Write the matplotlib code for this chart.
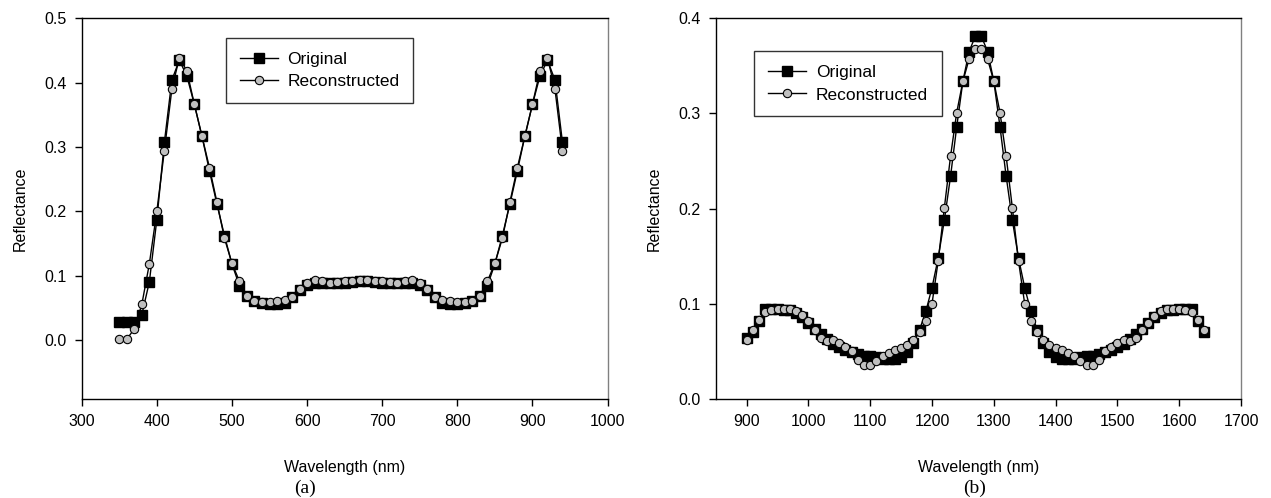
import numpy as np
import matplotlib
matplotlib.use("Agg")
import matplotlib.pyplot as plt

plt.rcParams['font.family'] = ['Liberation Sans', 'DejaVu Sans']

# --- dados do painel (a) ---
wl_a = np.arange(350, 950, 10)
orig_a = [0.028, 0.028, 0.028, 0.039, 0.090, 0.187, 0.307, 0.404, 0.435, 0.410,
          0.366, 0.317, 0.263, 0.211, 0.162, 0.118, 0.084, 0.068, 0.061, 0.057,
          0.056, 0.056, 0.058, 0.066, 0.078, 0.086, 0.089, 0.089, 0.088, 0.088,
          0.089, 0.090, 0.091, 0.091, 0.090, 0.089, 0.088, 0.088, 0.089, 0.089,
          0.086, 0.078, 0.066, 0.058, 0.056, 0.056, 0.057, 0.061, 0.068, 0.084,
          0.118, 0.162, 0.211, 0.263, 0.317, 0.366, 0.410, 0.435, 0.404, 0.307]
recon_a = [0.001, 0.001, 0.017, 0.055, 0.118, 0.200, 0.294, 0.390, 0.439, 0.418,
           0.366, 0.317, 0.268, 0.214, 0.158, 0.119, 0.091, 0.068, 0.061, 0.059,
           0.059, 0.061, 0.062, 0.067, 0.079, 0.089, 0.093, 0.091, 0.088, 0.090,
           0.091, 0.092, 0.093, 0.093, 0.092, 0.091, 0.090, 0.088, 0.091, 0.093,
           0.089, 0.079, 0.067, 0.062, 0.061, 0.059, 0.059, 0.061, 0.068, 0.091,
           0.119, 0.158, 0.214, 0.268, 0.317, 0.366, 0.418, 0.439, 0.390, 0.294]

# --- dados do painel (b) ---
wl_b = np.arange(900, 1650, 10)
orig_b = [0.064, 0.070, 0.082, 0.095, 0.095, 0.095, 0.094, 0.093, 0.090, 0.086,
          0.080, 0.074, 0.068, 0.063, 0.058, 0.055, 0.052, 0.049, 0.047, 0.045,
          0.045, 0.044, 0.042, 0.042, 0.042, 0.044, 0.049, 0.059, 0.073, 0.092,
          0.117, 0.148, 0.188, 0.234, 0.286, 0.334, 0.365, 0.381, 0.381, 0.365,
          0.334, 0.286, 0.234, 0.188, 0.148, 0.117, 0.092, 0.073, 0.059, 0.049,
          0.044, 0.042, 0.042, 0.042, 0.044, 0.045, 0.045, 0.047, 0.049, 0.052,
          0.055, 0.058, 0.063, 0.068, 0.074, 0.080, 0.086, 0.090, 0.093, 0.094,
          0.095, 0.095, 0.095, 0.082, 0.070]
recon_b = [0.062, 0.073, 0.083, 0.091, 0.094, 0.095, 0.095, 0.095, 0.092, 0.088,
           0.082, 0.073, 0.064, 0.061, 0.062, 0.059, 0.055, 0.050, 0.041, 0.036,
           0.036, 0.040, 0.045, 0.048, 0.052, 0.054, 0.057, 0.062, 0.070, 0.082,
           0.100, 0.145, 0.201, 0.255, 0.301, 0.334, 0.357, 0.368, 0.368, 0.357,
           0.334, 0.301, 0.255, 0.201, 0.145, 0.100, 0.082, 0.070, 0.062, 0.057,
           0.054, 0.052, 0.048, 0.045, 0.040, 0.036, 0.036, 0.041, 0.050, 0.055,
           0.059, 0.062, 0.061, 0.064, 0.073, 0.080, 0.087, 0.092, 0.095, 0.095,
           0.095, 0.094, 0.091, 0.083, 0.073]


def desenha(ax, wl, orig, recon, xlim, ylim, yticks, leg_pos):
    ax.plot(wl, orig, color='black', lw=1.0, marker='s', ms=6.5,
            mfc='black', mec='black', label='Original', zorder=2)
    ax.plot(wl, recon, color='black', lw=1.0, marker='o', ms=6,
            mfc='#c0c0c0', mec='black', mew=0.8, label='Reconstructed', zorder=3)
    ax.set_xlim(*xlim)
    ax.set_ylim(*ylim)
    ax.set_yticks(yticks)
    ax.yaxis.set_major_formatter(matplotlib.ticker.FormatStrFormatter('%.1f'))
    ax.tick_params(direction='out', length=5, width=1, labelsize=11.5, pad=6)
    ax.spines['right'].set_color('#808080')
    for s in ax.spines.values():
        s.set_linewidth(1.0)
    ax.set_xlabel('Wavelength (nm)', fontsize=11.5, labelpad=22)
    ax.set_ylabel('Reflectance', fontsize=11.5, labelpad=12)
    leg = ax.legend(loc='upper left', bbox_to_anchor=leg_pos, fontsize=12.5,
                    frameon=True, fancybox=False, edgecolor='black',
                    handlelength=2.2, borderpad=0.8, labelspacing=0.42,
                    handletextpad=0.55, borderaxespad=0)
    leg.get_frame().set_linewidth(1.0)


fig = plt.figure(figsize=(12.71, 4.98), dpi=100)
ax_a = fig.add_axes([0.0643, 0.1988, 0.4137, 0.7644])
ax_b = fig.add_axes([0.5631, 0.1988, 0.4133, 0.7644])

desenha(ax_a, wl_a, orig_a, recon_a, (300, 1000), (-0.092, 0.5),
        [0.0, 0.1, 0.2, 0.3, 0.4, 0.5], (0.274, 0.949))
desenha(ax_b, wl_b, orig_b, recon_b, (850, 1700), (0.0, 0.4),
        [0.0, 0.1, 0.2, 0.3, 0.4], (0.073, 0.914))
ax_a.set_xticks(np.arange(300, 1001, 100))
ax_b.set_xticks(np.arange(900, 1701, 100))

fig.text(305 / 1271, 1 - 488 / 498, '(a)', ha='center', va='center',
         family='Liberation Serif', fontsize=14)
fig.text(975 / 1271, 1 - 488 / 498, '(b)', ha='center', va='center',
         family='Liberation Serif', fontsize=14)

fig.savefig('out.png', dpi=100)
